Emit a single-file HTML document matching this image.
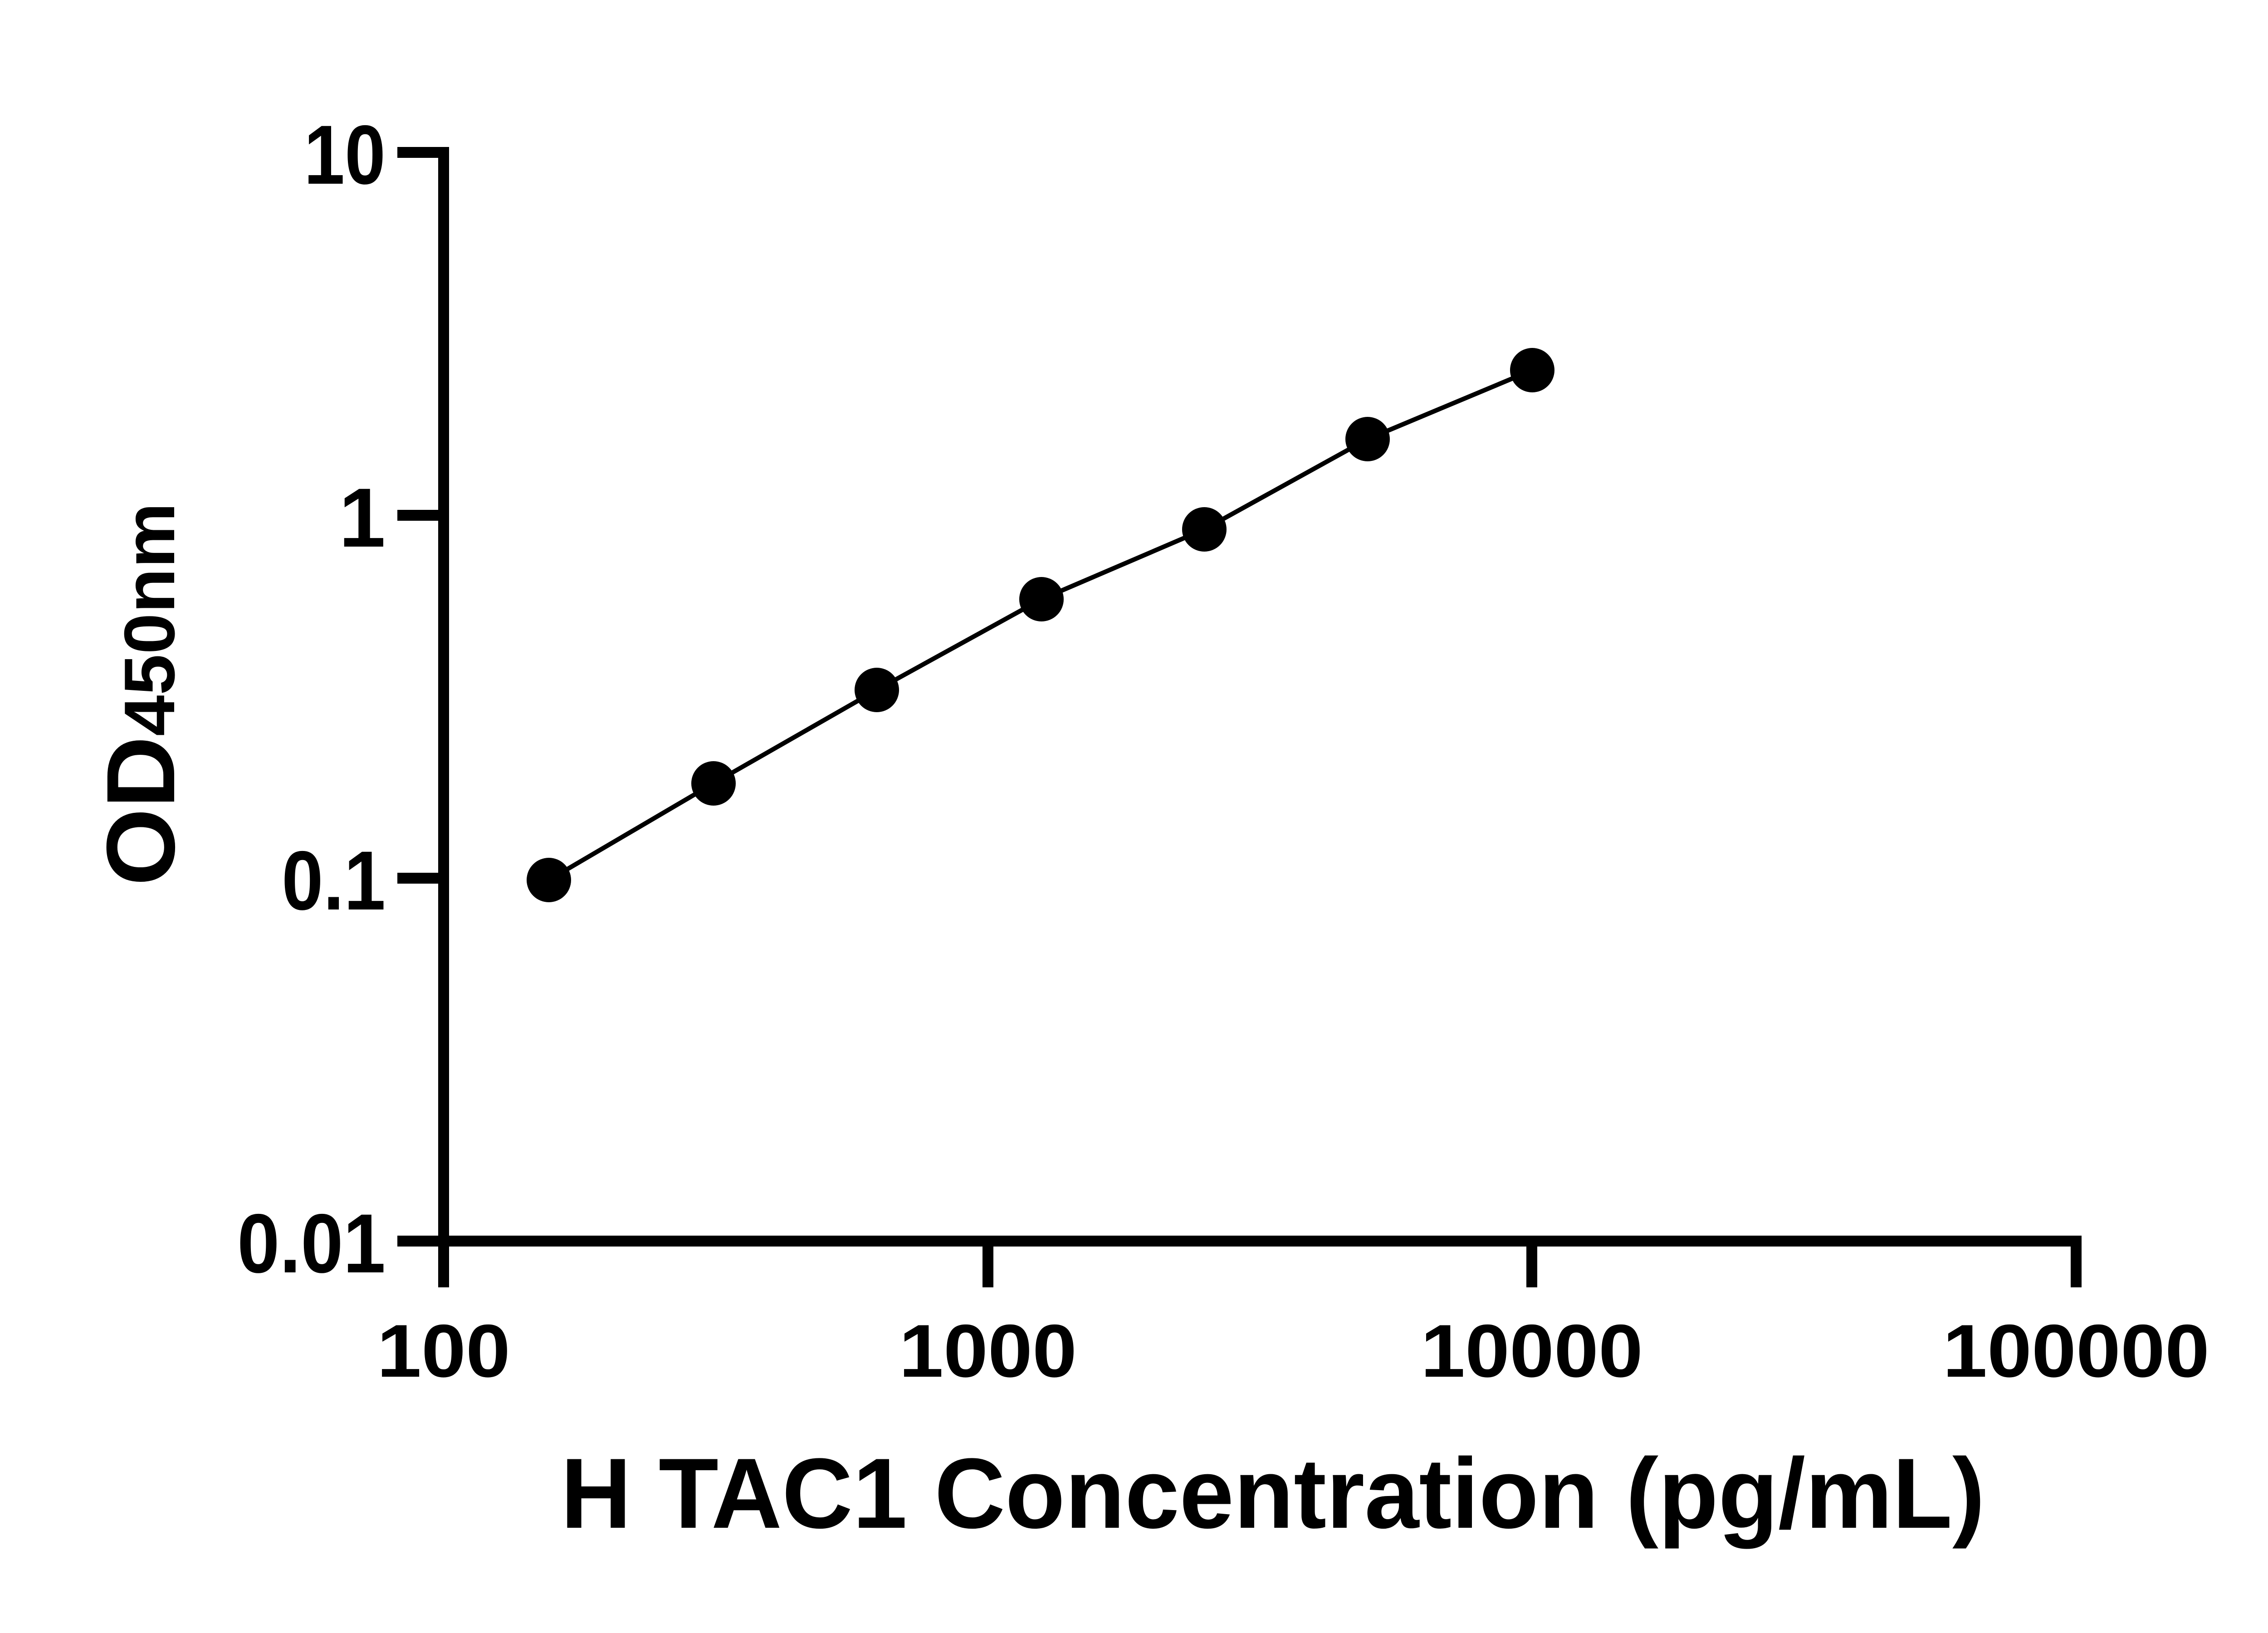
<!DOCTYPE html>
<html><head><meta charset="utf-8"><style>html,body{margin:0;padding:0;background:#fff}svg{display:block}</style></head>
<body>
<svg width="5130" height="3600" viewBox="0 0 5130 3600" xmlns="http://www.w3.org/2000/svg" font-family="'Liberation Sans', Arial, sans-serif" font-weight="bold">
<rect width="5130" height="3600" fill="#fff"/>
<g stroke="#000" stroke-width="24" fill="none">
<line x1="978" y1="324" x2="978" y2="2838"/>
<line x1="966" y1="2736" x2="4589" y2="2736"/>
<line x1="876" y1="336" x2="990" y2="336"/>
<line x1="876" y1="1136" x2="990" y2="1136"/>
<line x1="876" y1="1936" x2="990" y2="1936"/>
<line x1="876" y1="2736" x2="990" y2="2736"/>
<line x1="2178" y1="2736" x2="2178" y2="2838"/>
<line x1="3377" y1="2736" x2="3377" y2="2838"/>
<line x1="4577" y1="2724" x2="4577" y2="2838"/>
</g>
<g font-size="185" text-anchor="end">
<text x="850" y="405" textLength="180" lengthAdjust="spacingAndGlyphs">10</text>
<text x="850" y="1205">1</text>
<text x="850" y="2005" textLength="229" lengthAdjust="spacingAndGlyphs">0.1</text>
<text x="850" y="2805" textLength="327" lengthAdjust="spacingAndGlyphs">0.01</text>
</g>
<g font-size="165" text-anchor="middle">
<text x="978" y="3035" textLength="294" lengthAdjust="spacingAndGlyphs">100</text>
<text x="2178" y="3035" textLength="392" lengthAdjust="spacingAndGlyphs">1000</text>
<text x="3377" y="3035" textLength="490" lengthAdjust="spacingAndGlyphs">10000</text>
<text x="4577" y="3035" textLength="588" lengthAdjust="spacingAndGlyphs">100000</text>
</g>
<polyline fill="none" stroke="#000" stroke-width="10" points="1210,1940 1573,1727 1933,1521 2296,1321 2655,1167 3015,968 3378,816"/>
<g fill="#000">
<circle cx="1210" cy="1940" r="49"/>
<circle cx="1573" cy="1727" r="49"/>
<circle cx="1933" cy="1521" r="49"/>
<circle cx="2296" cy="1321" r="49"/>
<circle cx="2655" cy="1167" r="49"/>
<circle cx="3015" cy="968" r="49"/>
<circle cx="3378" cy="816" r="49"/>
</g>
<text x="2806" y="3368" font-size="220" text-anchor="middle" textLength="3140" lengthAdjust="spacingAndGlyphs">H TAC1 Concentration (pg/mL)</text>
<text transform="translate(384,1953) rotate(-90)" x="0" y="0" textLength="845" lengthAdjust="spacingAndGlyphs"><tspan font-size="214">OD</tspan><tspan font-size="158">450nm</tspan></text>
</svg>
</body></html>
